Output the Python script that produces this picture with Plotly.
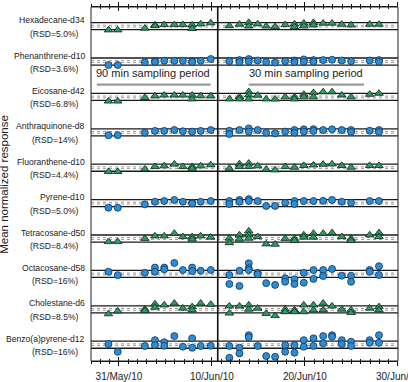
import plotly.graph_objects as go

# ---------------- data ----------------
times_90 = ["2010-05-29 21:00", "2010-05-30 21:00", "2010-06-02 19:00", "2010-06-03 21:00",
            "2010-06-04 21:00", "2010-06-05 23:00", "2010-06-06 21:00", "2010-06-07 21:00",
            "2010-06-08 19:00", "2010-06-09 21:00"]
times_30 = ["2010-06-11 21:00", "2010-06-12 23:00", "2010-06-13 23:00", "2010-06-14 22:00",
            "2010-06-15 20:00", "2010-06-16 19:00", "2010-06-17 21:00", "2010-06-18 21:00",
            "2010-06-19 21:00", "2010-06-20 22:00", "2010-06-21 23:00", "2010-06-22 22:00",
            "2010-06-23 23:00", "2010-06-24 23:00", "2010-06-26 23:00", "2010-06-27 23:00"]
switch_time = "2010-06-10 15:00"

compounds = ["Hexadecane-d34", "Phenanthrene-d10", "Eicosane-d42", "Anthraquinone-d8",
             "Fluoranthene-d10", "Pyrene-d10", "Tetracosane-d50", "Octacosane-d58",
             "Cholestane-d6", "Benzo(a)pyrene-d12"]
rsd_labels = ["(RSD=5.0%)", "(RSD=3.6%)", "(RSD=6.8%)", "(RSD=14%)", "(RSD=4.4%)",
              "(RSD=5.0%)", "(RSD=8.4%)", "(RSD=16%)", "(RSD=8.5%)", "(RSD=16%)"]
symbols = ["triangle-up", "circle", "triangle-up", "circle", "triangle-up",
           "circle", "triangle-up", "circle", "triangle-up", "circle"]

hexadecane = [[0.89], [0.89], [0.94], [1.03, 1.01], [1.04], [1.04], [1.04], [1.03, 0.93], [1.06], [1.09],
              [1.01], [1.05], [1.10, 1.00], [1.06], [1.00], [0.98], [1.04], [1.06, 0.98], [1.08, 1.00],
              [1.10, 1.03], [1.08], [1.08], [1.05], [1.03], [1.05], [1.05]]
phenanthrene = [[0.90], [0.90], [0.98], [1.01, 0.99], [1.02], [1.02], [1.02], [1.00, 0.99], [1.02], [1.07],
                [1.01], [1.04, 0.985], [1.07, 1.005], [1.03], [0.985], [0.97], [1.01], [1.03, 0.985],
                [1.06, 0.995], [1.04, 0.995], [1.04], [1.05], [1.03], [1.01], [1.03], [1.04, 0.995]]
eicosane = [[0.88], [0.88], [0.98], [1.025], [1.05], [1.05], [1.05], [1.045, 0.94], [1.03], [1.025],
            [0.94], [1.005, 0.94], [1.146, 1.05, 0.94], [1.045], [0.94], [0.935], [1.00], [1.00, 0.94],
            [1.07, 1.00], [1.12, 1.00], [1.14], [1.14], [1.05], [1.00], [1.07], [1.10]]
anthraquinone = [[0.92], [0.92], [0.99], [1.04], [1.04], [1.065], [1.03], [1.02], [1.04], [1.065],
                 [1.045, 0.95], [1.065], [1.11, 1.02], [1.065], [0.99], [0.97], [1.02], [1.065, 0.99],
                 [1.085, 1.02], [1.09, 1.04], [1.065], [1.085], [1.065], [1.065, 1.01], [1.045], [1.065, 1.01]]
fluoranthene = [[0.89], [0.89], [0.96], [1.03], [1.05], [1.10], [1.03], [1.03, 0.98], [1.05], [1.08],
                [0.98], [1.105, 1.03], [1.125, 1.03], [1.05], [0.955], [0.935], [1.03], [1.01], [1.06],
                [1.075], [1.095], [1.105], [1.06], [1.01], [1.06], [1.06]]
pyrene = [[0.87], [0.87], [0.965], [1.04], [1.06], [1.09], [1.04], [1.01, 0.99], [1.04], [1.06],
          [1.06, 0.975], [1.09, 1.04], [1.115, 1.06], [1.06], [0.92], [0.92], [1.01], [1.06, 0.975],
          [1.06], [1.06], [1.065], [1.09], [1.04], [1.01], [1.06], [1.06]]
tetracosane = [[0.91], [0.91], [1.00], [1.07], [1.07], [1.145], [1.05], [1.05, 0.98], [1.07], [1.035],
               [1.005, 0.88], [1.10, 0.98], [1.21, 1.10, 1.005], [1.05], [0.845], [0.835], [1.00],
               [1.00, 0.94], [1.10, 1.035], [1.145, 1.035], [1.145], [1.16], [1.05], [1.00, 0.94],
               [1.10], [1.16, 1.05]]
octacosane = [[1.06], [0.965], [1.03], [1.18, 1.06], [1.18, 1.13], [1.31], [1.11], [1.18, 1.08], [1.09], [1.11],
              [0.97, 0.715], [1.09, 0.66], [1.30, 1.16, 1.11], [1.03, 0.99], [0.74], [0.69], [0.875, 0.78],
              [0.85, 0.715], [1.03, 0.75], [1.11, 0.86], [1.11, 0.94], [1.14], [0.95], [0.95, 0.78],
              [1.11, 1.06], [1.22, 0.97]]
cholestane = [[0.87], [0.95], [1.00, 0.96], [1.15, 1.055], [1.12], [1.17], [1.03], [1.07, 0.98], [1.17], [1.14],
              [1.09, 0.89], [1.09], [1.12, 1.00], [1.03], [0.88], [0.82], [1.00, 0.93], [0.98, 0.93],
              [1.12, 0.93], [1.12, 0.98], [1.17, 0.98], [1.09], [1.00], [0.98, 0.905], [1.03], [1.07, 0.98]]
benzopyrene = [[1.02], [0.80], [0.965], [1.13, 0.99], [1.07, 0.97], [1.245], [0.945], [1.18, 0.915], [0.965], [0.97],
               [0.965, 0.63], [0.915, 0.755], [1.27, 1.21], [0.965], [0.68], [0.66], [0.99, 0.80], [0.99, 0.775],
               [1.13, 0.945], [1.18, 0.965], [1.245, 1.04], [1.27, 1.23], [1.13, 1.02], [1.085, 0.965],
               [1.13, 1.055], [1.27, 1.055]]

series = [hexadecane, phenanthrene, eicosane, anthraquinone, fluoranthene,
          pyrene, tetracosane, octacosane, cholestane, benzopyrene]

inner_limits = [0.975, 1.025]
outer_limits = [0.9, 1.1]

# ---------------- figure ----------------
times = times_90 + times_30
n = len(compounds)
blue, blue_edge = "#2b8dd4", "#12325e"
green, green_edge = "#2e9a68", "#0b2616"
FONT = "Liberation Sans, Arial, sans-serif"

fig = go.Figure()
layout_axes = {}
shapes = []
annotations = []
slot = 1.0 / n
yrange = [0.54, 1.541]

for i, (name, vals) in enumerate(zip(compounds, series)):
    k = n - 1 - i
    yname = "y" if k == 0 else f"y{k + 1}"
    ykey = "yaxis" if k == 0 else f"yaxis{k + 1}"
    layout_axes[ykey] = dict(domain=[k * slot, (k + 1) * slot], range=yrange, visible=False,
                             fixedrange=True)
    xs, ys = [], []
    for t, vv in zip(times, vals):
        for v in vv:
            xs.append(t)
            ys.append(v)
    is_circle = symbols[i] == "circle"
    fig.add_trace(go.Scatter(
        x=xs, y=ys, xaxis="x", yaxis=yname, mode="markers",
        marker=dict(symbol=symbols[i], size=7 if is_circle else 7.5,
                    color=blue if is_circle else green,
                    line=dict(color=blue_edge if is_circle else green_edge, width=0.8)),
        showlegend=False, hoverinfo="skip"))
    for yv in inner_limits:
        shapes.append(dict(type="line", xref="paper", x0=0, x1=1, yref=yname, y0=yv, y1=yv,
                           line=dict(color="#9a9a9a", width=1, dash="dot"), layer="below"))
    for yv in outer_limits:
        shapes.append(dict(type="line", xref="paper", x0=0, x1=1, yref=yname, y0=yv, y1=yv,
                           line=dict(color="#1a1a1a", width=1.3), layer="below"))
    annotations.append(dict(text=name, xref="paper", x=-0.013, xanchor="right",
                            yref=yname, y=1.0, yanchor="bottom", yshift=-1,
                            showarrow=False, font=dict(size=8.6, color="#222222", family=FONT)))
    annotations.append(dict(text=rsd_labels[i], xref="paper", x=-0.118, xanchor="center",
                            yref=yname, y=1.0, yanchor="top", yshift=-0.5,
                            showarrow=False, font=dict(size=8.6, color="#222222", family=FONT)))

# dummy traces for extra tick axes
fig.add_trace(go.Scatter(x=[], y=[], xaxis="x2", yaxis="y10", showlegend=False))
fig.add_trace(go.Scatter(x=[], y=[], xaxis="x3", yaxis="y", showlegend=False))
fig.add_trace(go.Scatter(x=[], y=[], xaxis="x4", yaxis="y10", showlegend=False))

xrange = ["2010-05-28", "2010-06-30 00:05"]
DAY = 86400000
common_x = dict(type="date", range=xrange, tick0="2010-05-31", dtick=10 * DAY,
                tickcolor="#111111", tickwidth=1, showgrid=False, zeroline=False,
                fixedrange=True, automargin=False)

xaxis = dict(common_x, anchor="y", side="bottom", ticks="outside", ticklen=4,
             tickformat="%d/%b/%y", showticklabels=True, ticklabelstandoff=2,
             ticklabeloverflow="allow",
             tickfont=dict(size=10, color="#222222", family=FONT),
             showline=True, linecolor="#111111", linewidth=1,
             minor=dict(ticks="outside", ticklen=2, dtick=DAY, tick0="2010-05-28",
                        tickcolor="#111111", tickwidth=1, showgrid=False))
xaxis2 = dict(common_x, anchor="y10", side="top", overlaying="x", ticks="outside", ticklen=4,
              showticklabels=False, showline=True, linecolor="#111111", linewidth=1,
              minor=dict(ticks="outside", ticklen=2, dtick=DAY, tick0="2010-05-28",
                         tickcolor="#111111", tickwidth=1, showgrid=False))
xaxis3 = dict(common_x, anchor="y", side="bottom", overlaying="x", ticks="inside", ticklen=4,
              showticklabels=False, showline=False,
              minor=dict(ticks="inside", ticklen=2, dtick=DAY, tick0="2010-05-28",
                         tickcolor="#111111", tickwidth=1, showgrid=False))
xaxis4 = dict(common_x, anchor="y10", side="top", overlaying="x", ticks="inside", ticklen=4,
              showticklabels=False, showline=False,
              minor=dict(ticks="inside", ticklen=2, dtick=DAY, tick0="2010-05-28",
                         tickcolor="#111111", tickwidth=1, showgrid=False))

# frame, separator, period underlines
shapes.append(dict(type="rect", xref="paper", yref="paper", x0=0, x1=1, y0=0, y1=1,
                   line=dict(color="#222222", width=1)))
shapes.append(dict(type="line", xref="x", x0=switch_time, x1=switch_time, yref="paper", y0=0, y1=1,
                   line=dict(color="#111111", width=1.6)))
shapes.append(dict(type="line", xref="paper", x0=0.019, x1=0.39, yref="paper", y0=0.781, y1=0.781,
                   line=dict(color="#9a9a9a", width=2.2)))
shapes.append(dict(type="line", xref="paper", x0=0.514, x1=0.889, yref="paper", y0=0.781, y1=0.781,
                   line=dict(color="#9a9a9a", width=2.2)))

annotations.append(dict(text="90 min sampling period", xref="paper", x=0.2027, xanchor="center",
                        yref="paper", y=0.8126, yanchor="middle", showarrow=False,
                        font=dict(size=11, color="#222222", family=FONT)))
annotations.append(dict(text="30 min sampling period", xref="paper", x=0.7006, xanchor="center",
                        yref="paper", y=0.8126, yanchor="middle", showarrow=False,
                        font=dict(size=11, color="#222222", family=FONT)))
annotations.append(dict(text="Mean normalized response", xref="paper", x=-0.284, xanchor="center",
                        yref="paper", y=0.5, yanchor="middle", textangle=-90, showarrow=False,
                        font=dict(size=11.5, color="#222222", family=FONT)))

fig.update_layout(width=408, height=382, margin=dict(l=91, r=10, t=7, b=21),
                  paper_bgcolor="white", plot_bgcolor="white", showlegend=False,
                  font=dict(family=FONT), xaxis=xaxis, xaxis2=xaxis2, xaxis3=xaxis3, xaxis4=xaxis4,
                  shapes=shapes, annotations=annotations, **layout_axes)

fig.write_html("out.html")
